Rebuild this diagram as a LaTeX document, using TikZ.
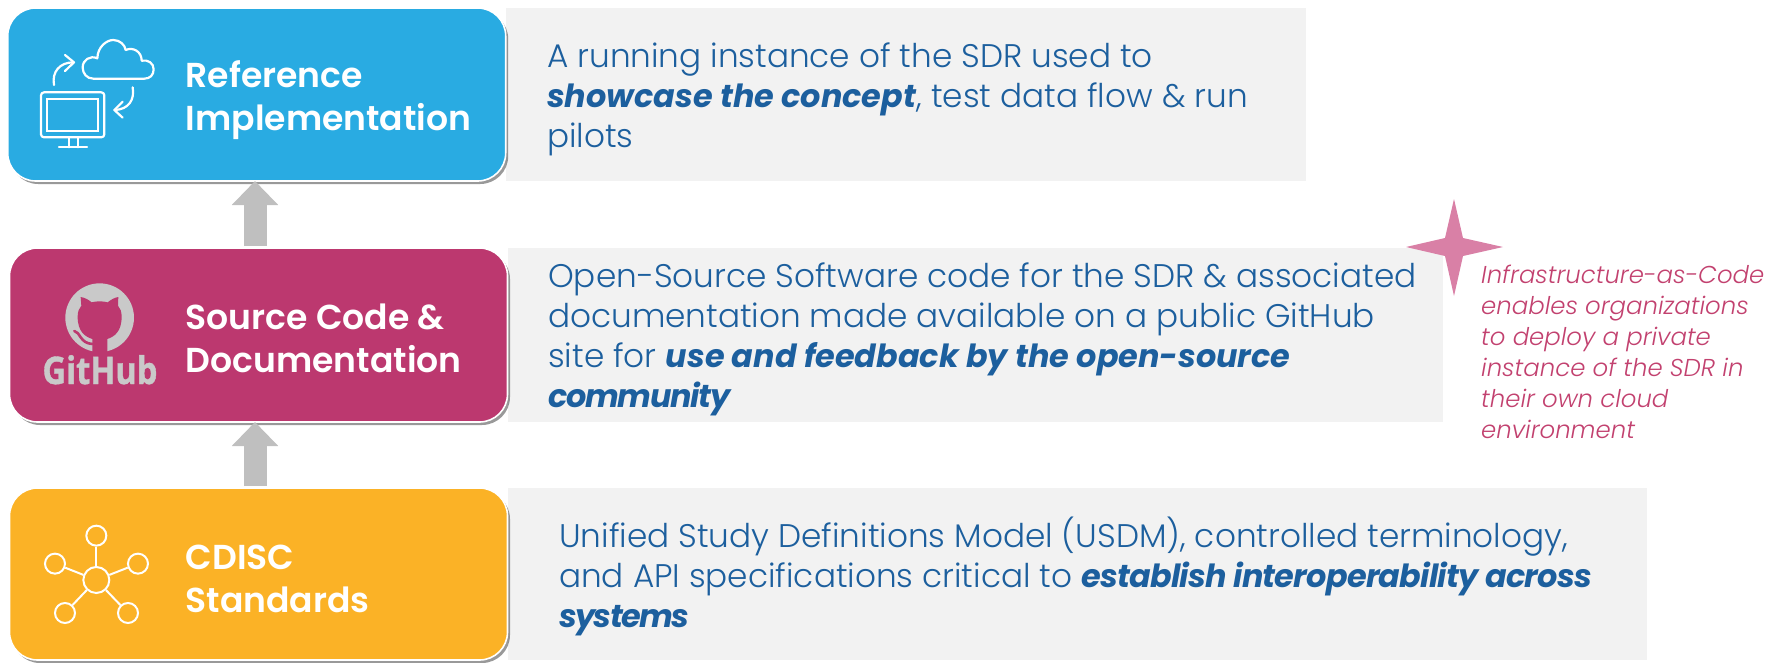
\documentclass[tikz,border=0pt]{standalone}
\usepackage{fontspec}
\setmainfont{Poppins}[UprightFont=* Light,ItalicFont=* Light Italic,BoldFont=* SemiBold,BoldItalicFont=* Bold Italic,BoldItalicFeatures={Scale=0.975}]
\newfontfamily\ghfont{Open Sans}[BoldFeatures={FakeStretch=0.86,FakeBold=1}]
\newcommand{\emphbi}[2]{\textbf{\textit{\addfontfeature{LetterSpace=#1}#2}}}
\usetikzlibrary{shadows,arrows.meta}
\definecolor{cblue}{HTML}{29ABE2}
\definecolor{cmag}{HTML}{BC386F}
\definecolor{cgold}{HTML}{FBB226}
\definecolor{ctext}{HTML}{1C5F9E}
\definecolor{cnote}{HTML}{C2416F}
\definecolor{cpanel}{HTML}{F2F2F2}
\definecolor{carrow}{HTML}{BFBFBF}
\definecolor{cstar}{HTML}{D980A6}
\definecolor{cgh}{HTML}{C9C9C9}
\tikzset{
  x=1pt,y=-1pt,
  panel/.style={fill=cpanel,draw=none,inner sep=0pt,outer sep=0pt,anchor=north west},
  boxshape/.style={rounded corners=28pt,draw=white,line width=1.6pt,inner sep=0pt,outer sep=0pt,anchor=north west,minimum width=498pt,minimum height=173pt,
    drop shadow={shadow xshift=2.5pt,shadow yshift=-3pt,opacity=.5,fill=black!80}},
  head/.style={text=white,font=\fontsize{34.6}{42.5}\selectfont\bfseries,align=left,anchor=base west,inner sep=0pt},
  body/.style={text=ctext,font=\fontsize{32.7}{40}\selectfont,align=left,anchor=base west,inner sep=0pt},
  note/.style={text=cnote,font=\fontsize{24.4}{31}\selectfont\itshape,align=left,anchor=base west,inner sep=0pt},
  upflow/.style={draw=carrow,line width=23pt,-{Triangle[length=24pt,width=45pt]},shorten <=2pt},
  icon/.style={draw=white,line width=2.2pt,line cap=round,line join=round},
  hub/.style={circle,draw=white,line width=2pt,inner sep=0pt,minimum size=#1}
}
\begin{document}
\begin{tikzpicture}
\useasboundingbox (0,0) rectangle (1786,662);
% grey panels
\node[panel,minimum width=800pt,minimum height=173pt] (p1) at (506,8) {};
\node[panel,minimum width=935pt,minimum height=174pt] (p2) at (508,248) {};
\node[panel,minimum width=1139pt,minimum height=172pt] (p3) at (508,488) {};
% boxes
\node[boxshape,fill=cblue] (b1) at (7.7,8) {};
\node[boxshape,fill=cmag,minimum height=174pt] (b2) at (9.5,248) {};
\node[boxshape,fill=cgold,minimum height=172pt] (b3) at (9.5,488) {};
% arrows
\coordinate (ax) at (255,0);
\draw[upflow] (ax |- b2.north) -- (ax |- b1.south);
\draw[upflow] (ax |- b3.north) -- (ax |- b2.south);
% headings
\node[head] (h1) at (185.5,130) {Reference\\Implementation};
\node[head] (h2) at (185.5,372) {Source Code \&\\Documentation};
\node[head] (h3) at (185.5,612) {CDISC\\Standards};
% body texts
\node[body] (t1) at (547,147) {A running instance of the SDR used to\\\textbf{\textit{showcase the concept}}, test data flow \& run\\pilots};
\node[body] (t2) at (548,407) {Open-Source Software code for the SDR \& associated\\documentation made available on a public GitHub\\site for \textbf{\textit{use and feedback by the open-source}}\\\emphbi{-4}{community}};
\node[body] (t3) at (559,627) {Unified Study Definitions Model (USDM), controlled terminology,\\and API specifications critical to \emphbi{-2.4}{establish interoperability across}\\\emphbi{-5}{systems}};
% star and note
\fill[cstar] (1454,199) -- (1463,238) -- (1503,247) -- (1463,256) -- (1454,296) -- (1445,256) -- (1406,247) -- (1445,238) -- cycle;
\node[note] (n1) at (1481,438) {Infrastructure-as-Code\\enables organizations\\to deploy a private\\instance of the SDR in\\their own cloud\\environment};
% reference icon
\begin{scope}[shift={(35,30)},x=0.3333pt,y=-0.3333pt]
\draw[icon,rounded corners=3pt] (18,187) rectangle (208,322);
\draw[icon,line join=miter] (37,206) rectangle (190,302);
\draw[icon] (102,322) -- (102,352) (128,322) -- (128,352) (72,352) -- (156,352);
\draw[icon] (175,146) .. controls (155,146) and (143,130) .. (143,112) .. controls (143,90) and (165,75) .. (187,85) .. controls (188,50) and (215,30) .. (235,30) .. controls (255,30) and (270,45) .. (272,60) .. controls (295,50) and (320,65) .. (320,92) .. controls (340,88) and (356,100) .. (356,118) .. controls (356,135) and (345,146) .. (328,146) -- cycle;
\draw[icon] (57,165) .. controls (50,125) and (75,97) .. (115,97);
\draw[icon] (90,75) -- (117,97) -- (90,123);
\draw[icon] (293,172) .. controls (300,210) and (280,238) .. (240,240);
\draw[icon] (263,215) -- (238,240) -- (263,263);
\end{scope}
% github icon
\begin{scope}[shift={(35,275)},x=0.3333pt,y=-0.3333pt]
\fill[cgh] (194,128) circle[radius=103];
\fill[cmag] (172,240) -- (172,192) .. controls (150,185) and (128,170) .. (128,125) .. controls (128,110) and (132,100) .. (139,92) -- (137,66) .. controls (150,68) and (160,74) .. (170,82) .. controls (185,78) and (203,78) .. (218,82) .. controls (228,74) and (238,68) .. (250,66) -- (249,92) .. controls (256,100) and (260,110) .. (260,125) .. controls (260,170) and (238,185) .. (217,192) -- (217,240) -- cycle;
\draw[cmag,line width=2.6pt,line cap=round] (118,168) .. controls (135,170) and (135,205) .. (172,207);
\end{scope}
\node[text=cgh,font=\ghfont\bfseries\fontsize{38}{38}\selectfont,anchor=base,inner sep=0pt] (gh) at (100,384) {GitHub};
% network icon
\begin{scope}[shift={(0,440)},x=0.3333pt,y=-0.3333pt]
\node[hub=26pt] (c0) at (289,420) {};
\node[hub=20pt] (c1) at (289,287) {};
\node[hub=20pt] (c2) at (165,371) {};
\node[hub=20pt] (c3) at (414,371) {};
\node[hub=20pt] (c4) at (195,519) {};
\node[hub=20pt] (c5) at (384,519) {};
\foreach \k in {1,...,5} \draw[white,line width=2pt] (c0) -- (c\k);
\end{scope}
\end{tikzpicture}
\end{document}
